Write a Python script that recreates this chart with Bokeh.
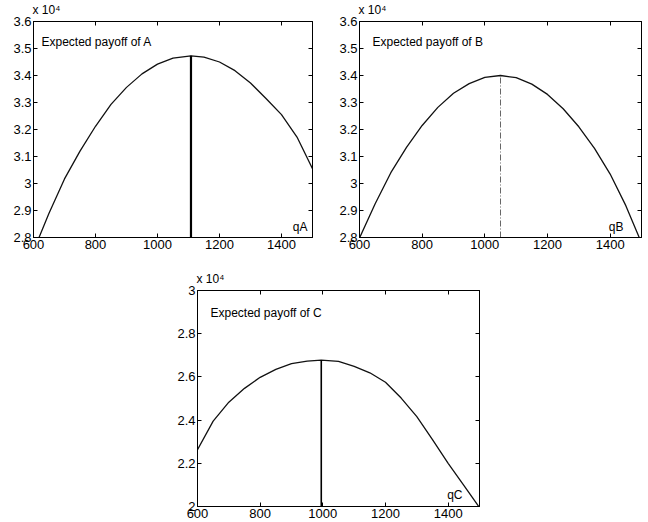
from bokeh.plotting import figure
from bokeh.models import (Range1d, FixedTicker, LinearAxis, Label, CustomJSTickFormatter,
                          Spacer, CustomLabelingPolicy, Title)
from bokeh.layouts import row, column
from bokeh.embed import file_html
from bokeh.resources import INLINE

# ---- data ----
qA = [600, 650, 700, 750, 800, 850, 900, 950, 1000, 1050, 1108, 1150, 1200, 1250, 1300, 1350, 1400, 1450, 1500]
payA = [27500, 28900, 30170, 31200, 32120, 32930, 33560, 34060, 34420, 34640, 34730, 34680, 34500, 34180, 33720, 33150, 32550, 31720, 30550]
peakA_q, peakA_pay = 1108, 34730

qB = [600, 650, 700, 750, 800, 850, 900, 950, 1000, 1050, 1100, 1150, 1200, 1250, 1300, 1350, 1400, 1450, 1500]
payB = [27980, 29250, 30400, 31340, 32150, 32820, 33340, 33700, 33930, 34000, 33920, 33680, 33300, 32770, 32100, 31300, 30350, 29180, 27800]
peakB_q, peakB_pay = 1050, 34000

qC = [600, 650, 700, 750, 800, 850, 900, 950, 995, 1050, 1100, 1150, 1200, 1250, 1300, 1350, 1400, 1450, 1500]
payC = [22630, 23950, 24830, 25470, 25980, 26350, 26610, 26730, 26780, 26720, 26490, 26190, 25750, 25020, 24160, 23100, 22000, 20980, 19950]
peakC_q, peakC_pay = 995, 26780

x_ticks = [600, 800, 1000, 1200, 1400]
y_ticks_AB = [28000, 29000, 30000, 31000, 32000, 33000, 34000, 35000, 36000]
y_ticks_C = [20000, 22000, 24000, 26000, 28000, 30000]
titles = ["Expected payoff of A", "Expected payoff of B", "Expected payoff of C"]
xlabels = ["qA", "qB", "qC"]
scale_text = "x 10\u2074"

FONT = "Liberation Sans"

NO_LABELS = CustomLabelingPolicy(code="""
for (let i = 0; i < indices.size; i++) {
    if (indices.unset) { indices.unset(i) } else { indices.set(i, false) }
}
return indices
""")


def style_axis(ax, ticks, labels=True):
    ax.ticker = FixedTicker(ticks=ticks)
    ax.major_tick_in = 4
    ax.major_tick_out = 0
    ax.minor_tick_in = 0
    ax.minor_tick_out = 0
    ax.axis_line_color = "black"
    ax.major_tick_line_color = "black"
    if labels:
        ax.major_label_text_font = FONT
        ax.major_label_text_font_size = "13px"
        ax.major_label_text_color = "black"
        ax.major_label_standoff = 2
    else:
        ax.major_label_text_font_size = "1px"
        ax.major_label_standoff = 0
        ax.major_label_policy = NO_LABELS


def panel(width, height, mb, yr, yticks, q, pay, pk_q, pk_pay, title, xlabel,
          vstyle, qoff):
    p = figure(width=width, height=height, output_backend="svg", toolbar_location=None,
               x_range=Range1d(600, 1500), y_range=Range1d(*yr),
               min_border_left=mb[0], min_border_right=mb[1],
               min_border_top=mb[2], min_border_bottom=mb[3])
    p.title = Title(text=scale_text, align="left", offset=-1, standoff=1,
                    text_font=FONT, text_font_size="12px", text_font_style="normal",
                    text_color="black")
    p.grid.visible = False
    p.outline_line_color = "black"
    p.outline_line_width = 1
    p.background_fill_color = "white"
    p.border_fill_color = "white"
    style_axis(p.xaxis[0], x_ticks)
    style_axis(p.yaxis[0], yticks)
    p.yaxis[0].formatter = CustomJSTickFormatter(code="return String(Math.round(tick/1000)/10);")
    top = LinearAxis()
    style_axis(top, x_ticks, labels=False)
    p.add_layout(top, "above")
    right = LinearAxis()
    style_axis(right, yticks, labels=False)
    p.add_layout(right, "right")

    p.line(q, pay, line_color="#111111", line_width=1.3)
    p.segment(x0=[pk_q], y0=[yr[0]], x1=[pk_q], y1=[pk_pay], **vstyle)

    x0, x1 = p.x_range.start, p.x_range.end
    y0, y1 = p.y_range.start, p.y_range.end
    p.add_layout(Label(x=x0, y=y1, x_offset=qoff[0], y_offset=qoff[1], text=title,
                       text_font=FONT, text_font_size="12px", text_baseline="top",
                       text_color="black"))
    p.add_layout(Label(x=x1, y=y0, x_offset=qoff[2], y_offset=qoff[3], text=xlabel,
                       text_font=FONT, text_font_size="12px", text_align="right",
                       text_baseline="bottom", text_color="black"))
    return p


pA = panel(334, 268, (33, 22, 20, 31), (28000, 36000), y_ticks_AB, qA, payA,
           peakA_q, peakA_pay, titles[0], xlabels[0],
           dict(line_color="black", line_width=2.2), (8, -13, -5, 4))
pB = panel(314, 268, (25, 7, 20, 31), (28000, 36000), y_ticks_AB, qB, payB,
           peakB_q, peakB_pay, titles[1], xlabels[1],
           dict(line_color="#666666", line_width=1, line_dash="6 2 1 2"), (13, -13, -18, 4))
pC = panel(317, 254, (25, 10, 22, 16), (20000, 30000), y_ticks_C, qC, payC,
           peakC_q, peakC_pay, titles[2], xlabels[2],
           dict(line_color="black", line_width=1.6), (13, -15, -17, 5))

layout = column(row(pA, pB), row(Spacer(width=172, height=254), pC))

open("out.html", "w").write(file_html(layout, INLINE))
